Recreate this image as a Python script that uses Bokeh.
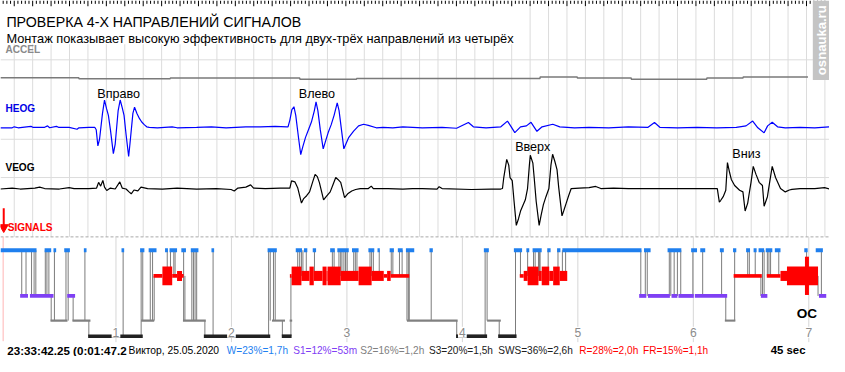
import numpy as np
from bokeh.plotting import figure
from bokeh.models import Range1d, Label
from bokeh.embed import file_html
from bokeh.resources import INLINE
from bokeh.core.properties import value

# ======================= DATA =======================
title_text = "ПРОВЕРКА 4-Х НАПРАВЛЕНИЙ СИГНАЛОВ"
subtitle_text = "Монтаж показывает высокую эффективность для двух-трёх направлений из четырёх"
channel_names = ["ACCEL", "HEOG", "VEOG", "SIGNALS"]
window_sec = 45

# HEOG: time (s) in the 45-s window, amplitude (uV)
heog_t = [0.25, 0.89, 1.00, 1.21, 1.91, 2.01, 2.65, 2.81, 2.92, 3.29, 3.40, 3.98, 4.41, 4.51, 5.05, 5.37,
          5.45, 5.54, 5.63, 5.79, 5.90, 6.01, 6.11, 6.22, 6.38, 6.48, 6.64, 6.75, 6.86, 6.96, 7.07, 7.21,
          7.28, 7.44, 7.53, 7.66, 7.80, 7.92, 8.07, 8.19, 8.33,
          8.77, 9.57, 9.84, 10.90, 11.70, 12.50, 13.57, 14.37, 15.16, 15.80,
          15.86, 15.96, 16.07, 16.18, 16.28, 16.44, 16.55, 16.66, 16.81, 16.97, 17.13, 17.29, 17.38, 17.48,
          17.61, 17.77, 17.88, 18.04, 18.20, 18.36, 18.53, 18.63, 18.76, 18.89, 19.00, 19.16, 19.42, 19.69,
          19.96, 20.22, 20.65,
          21.02, 21.55, 22.09, 22.62, 23.15, 24.22, 25.01, 25.65, 25.92, 26.61, 27.41, 27.77, 27.94, 28.17,
          28.48, 28.80, 29.05, 29.37, 29.65, 30.23, 30.61, 31.41, 32.20, 33.27, 34.33, 35.40, 35.75, 36.04,
          37.00, 38.06, 39.13, 40.19, 40.72, 41.08, 41.36, 41.70, 41.89, 42.14, 42.43, 42.85, 43.65, 44.45, 45.25]
heog_uv = [0, 0, 10, 0, 15, 5, 5, 20, 0, 15, 5, 5, -15, 0, 5, 5,
           -20, -190, -120, 150, 290, 200, 130, -20, -270, -170, 180, 290, 210, 130, -70, -300,
           -170, 150, 215, 150, 95, 60, 30, 10, 5,
           0, 10, 0, 5, 10, 0, 10, 10, 15, 10,
           10, 80, 190, 220, 130, -120, -280, -200, -100, -20, 60, 180, 270, 180,
           -20, -220, -150, -50, 30, 130, 260, 180, -20, -220, -170, -100, -35, 20,
           37, 25, 0,
           5, 0, 10, 5, 0, 5, -5, 55, 10, 0, 10, 70, 20, -50,
           10, 20, 57, -37, 10, 37, 10, 0, 5, 0, 10, 5, 55, 5,
           0, 5, 0, 5, 20, 70, 0, -53, 20, 57, 10, 0, 5, 0, 10]

# VEOG: time (s), amplitude (uV)
veog_t = [0.25, 0.89, 1.32, 2.12, 2.38, 2.65, 3.45, 3.98, 4.25, 5.05,
          5.47, 5.58, 5.69, 5.81, 5.90, 6.02, 6.22, 6.48, 6.73, 6.86,
          7.07, 7.23, 7.35, 7.50, 7.71, 7.88, 8.24, 9.04, 9.84, 10.90,
          11.97, 12.77, 12.94, 13.14, 13.57, 13.83, 13.99, 14.63, 15.43, 15.96,
          16.05, 16.23, 16.39, 16.59, 16.71, 16.87, 17.03, 17.19, 17.33, 17.45,
          17.56, 17.79, 17.93, 18.15, 18.31, 18.45, 18.57, 18.72, 18.93, 19.10,
          19.32, 19.53, 19.78, 20.22, 20.38, 20.49, 21.29, 22.09, 22.62, 23.15,
          23.95, 24.06, 24.22, 25.81, 26.88, 27.41, 27.50, 27.57, 27.73, 27.84,
          27.91, 28.03, 28.13, 28.25, 28.37, 28.48, 28.74, 28.86, 28.96, 29.01,
          29.15, 29.22, 29.33, 29.49, 29.59, 29.72, 29.86, 30.02, 30.13, 30.22,
          30.34, 30.46, 30.55, 30.73, 30.82, 30.96, 31.09, 31.23, 31.67, 32.20,
          32.56, 32.84, 33.53, 34.33, 35.40, 36.46, 37.53, 38.59, 39.16, 39.27,
          39.34, 39.48, 39.62, 39.71, 39.83, 39.92, 40.10, 40.37, 40.55, 40.67,
          40.81, 40.88, 40.99, 41.11, 41.26, 41.43, 41.61, 41.70, 41.88, 42.00,
          42.14, 42.32, 42.59, 42.85, 43.07, 43.21, 43.65, 44.45, 44.98, 45.25]
veog_uv = [-5, 5, -5, 5, 15, 0, -5, 10, 0, 0,
           5, 65, 25, 85, 15, -20, 5, -5, 70, 5,
           -5, -35, -55, -15, -25, 15, 0, -5, 5, -5,
           0, -10, -25, 5, 15, 38, 5, 0, 5, 5,
           80, 70, 5, -152, -105, -75, -35, 65, 148, 125,
           65, -118, -85, -35, 45, 115, 95, 65, -95, -55,
           -25, -10, 0, 0, 25, 0, 0, -5, 0, 0,
           -5, 20, 0, -10, -5, -5, 0, 115, 305, 245,
           115, 82, -135, -385, -315, -235, -118, 0, 245, 348,
           265, 115, -135, -385, -285, -168, -85, 0, 245, 358,
           285, 198, 15, -285, -235, -152, -75, 0, 5, 10,
           22, 0, 5, 0, 0, 0, 0, 0, 0, -142,
           -125, -85, -18, 272, 165, 95, 32, -18, -35, -235,
           -152, -65, 65, 232, 148, 65, 32, -185, -85, 65,
           232, 115, 0, -35, -15, -8, 0, 0, 10, -5]

# ACCEL: step signal (edges in s, level between edges)
accel_edges_t = [0.25, 4.51, 9.47, 16.50, 19.58, 29.54, 31.56, 34.49, 38.59, 40.56, 44.08]
accel_level = [3, -7, 0, -13, -5, 10, 0, -13, 0, 10]

move_names = ["Вправо", "Влево", "Вверх", "Вниз"]
move_t = [6.67, 17.43, 29.14, 40.74]
move_channel = ["heog", "heog", "veog", "veog"]

# ---- hypnogram (hours from start of recording) ----
w_start = [0.000, 0.382, 0.459, 0.552, 0.722, 1.048, 1.209, 1.283, 1.425, 1.464, 1.566, 1.648, 1.827, 2.313,
           2.557, 2.628, 2.704, 2.855, 2.917, 3.044, 3.186, 3.265, 3.370, 3.441, 3.511, 3.715, 4.186, 4.446,
           4.554, 4.608, 4.735, 4.820, 4.866, 5.573, 5.777, 5.981, 6.060, 6.230, 6.344, 6.457, 6.522, 6.565,
           6.627, 6.706, 6.961, 7.060]
w_end = [0.312, 0.439, 0.482, 0.601, 0.745, 1.071, 1.246, 1.351, 1.450, 1.529, 1.606, 1.714, 1.850, 2.393,
         2.611, 2.657, 2.733, 2.895, 3.016, 3.101, 3.237, 3.285, 3.407, 3.483, 3.583, 3.744, 4.229, 4.517,
         4.579, 4.687, 4.764, 4.849, 5.551, 5.630, 5.896, 6.032, 6.103, 6.264, 6.372, 6.491, 6.548, 6.613,
         6.684, 6.755, 6.990, 7.122]
s1_start = [0.170, 0.255, 0.578, 5.531, 5.607, 5.811, 5.871, 6.013, 6.585, 7.088]
s1_end = [0.238, 0.459, 0.646, 5.593, 5.797, 5.862, 6.004, 6.293, 6.641, 7.151]
s2_start = [0.433, 0.623, 1.218, 1.580, 2.351, 2.504, 3.520, 4.214, 6.273]
s2_end = [0.580, 0.779, 1.331, 1.778, 2.464, 2.526, 3.959, 4.333, 6.364]
s3_start = [0.759, 1.761, 2.436, 3.945, 4.310]
s3_end = [1.232, 2.336, 2.521, 4.214, 4.469]
rem_start = [1.325, 1.402, 1.487, 1.529, 1.572, 2.506, 2.521, 2.606, 2.676, 2.713, 2.789, 2.824, 2.832, 2.946,
             3.101, 3.214, 3.319, 3.348, 3.379, 4.497, 4.531, 4.565, 4.659, 4.687, 4.752, 4.786, 4.843, 6.349,
             6.636, 6.755, 6.811]
rem_end = [1.402, 1.487, 1.529, 1.572, 1.586, 2.521, 2.606, 2.676, 2.713, 2.789, 2.824, 2.832, 2.946, 3.101,
           3.214, 3.319, 3.348, 3.379, 3.540, 4.531, 4.565, 4.659, 4.687, 4.752, 4.786, 4.843, 4.908, 6.593,
           6.755, 6.811, 7.080]
rem_density = [1, 3, 1, 2, 1, 1, 3, 2, 3, 2, 3, 2, 3, 2, 3, 2, 1, 2, 1, 1, 2, 3, 2, 3, 2, 3, 2, 1, 1, 2, 3]

trans_h = [0.184, 0.221, 0.269, 0.291, 0.306, 0.388, 0.402, 0.419, 0.439, 0.467,
           0.567, 0.586, 0.629, 0.731, 0.765, 1.062, 1.218, 1.232, 1.297, 1.317,
           1.331, 1.444, 1.472, 1.501, 1.512, 1.586, 1.597, 1.657, 1.671, 1.685,
           1.699, 1.770, 1.841, 2.322, 2.336, 2.364, 2.379, 2.441, 2.515, 2.574,
           2.591, 2.606, 2.619, 2.648, 2.719, 2.874, 2.889, 2.931, 2.946, 2.957,
           2.974, 2.988, 3.002, 3.059, 3.073, 3.087, 3.200, 3.214, 3.229, 3.280,
           3.384, 3.398, 3.455, 3.478, 3.520, 3.532, 3.540, 3.730, 3.951, 4.197,
           4.214, 4.319, 4.460, 4.503, 4.565, 4.616, 4.630, 4.659, 4.667, 4.673,
           4.743, 4.828, 4.866, 4.894, 5.545, 5.584, 5.601, 5.792, 5.805, 5.834,
           5.862, 5.891, 5.996, 6.081, 6.245, 6.281, 6.358, 6.471, 6.485, 6.536,
           6.585, 6.599, 6.613, 6.641, 6.655, 6.669, 6.740, 6.981, 7.080, 7.109]
trans_from = (["W"] * 8 + ["S1", "W"] +
              ["W", "W", "S1", "W", "S2", "W", "W", "W", "W", "W"] +
              ["S2", "W", "W", "W", "W", "W", "R", "W", "W", "W"] +
              ["W", "S2", "W", "W", "W", "W", "W", "S2", "R", "W"] +
              ["W"] * 10 +
              ["W"] * 10 +
              ["W"] * 8 + ["S2", "W"] +
              ["W", "S2"] + ["W"] * 8 +
              ["W"] * 10 +
              ["W"] * 5 + ["S1", "W", "W", "W", "W"] +
              ["R", "W", "W", "W", "W", "W", "W", "W", "R", "W"])
trans_to = (["S1"] * 8 + ["S2", "S2"] +
            ["S2", "S2", "S2", "S2", "S3", "S3", "S3", "S2", "S2", "S2"] +
            ["R", "R", "R", "R", "R", "S2", "S2", "S2", "S2", "S2"] +
            ["S2", "S3", "S3", "S3", "S2", "S2", "S2", "S3", "S3", "R"] +
            ["R"] * 10 +
            ["R"] * 10 +
            ["R"] * 4 + ["S2"] * 4 + ["S3", "S3"] +
            ["S2", "S3", "S3"] + ["R"] * 7 +
            ["R"] * 4 + ["S1"] * 6 +
            ["S1"] * 5 + ["S2", "S2", "R", "R", "R"] +
            ["S1", "S1", "S1", "R", "R", "R", "R", "R", "S1", "S1"])

hour_ticks = [1, 2, 3, 4, 5, 6, 7]
cursor_h = 0.028
event_h = [6.984]
event_names = ["ОС"]

clock_text = "23:33:42.25 (0:01:47.2"
subject_text = "Виктор, 25.05.2020"
stat_names = ["W", "S1", "S2", "S3", "SWS", "R", "FR"]
stat_pct = [23, 12, 16, 20, 36, 28, 15]
stat_dur = ["1,7h", "53m", "1,2h", "1,5h", "2,6h", "2,0h", "1,1h"]
watermark = "osnauka.ru"

# ======================= LAYOUT / STYLE =======================
FW, FH = 829, 356          # figure size
GW, GH = 845, 372          # design grid (layout positions below are in this grid)
FONT = value("Liberation Sans")
SC = 0.97


def fs(px):
    return f"{px * SC:.1f}px"


p = figure(width=FW, height=FH, output_backend="svg", toolbar_location=None,
           x_range=Range1d(0, GW), y_range=Range1d(GH, 0),
           x_axis_location=None, y_axis_location=None, min_border=0,
           outline_line_color=None, background_fill_color="white", border_fill_color="white")
p.grid.visible = False

SEC_PX = 18.78     # px per second in the signal window
HR_PX = 117.7      # px per hour in the hypnogram
T0 = 0.2545
p.extra_x_ranges = {"sec": Range1d(T0, T0 + GW / SEC_PX), "hr": Range1d(0, GW / HR_PX)}
UVPX = 10.0
p.extra_y_ranges = {
    "heog": Range1d((133 - GH) * UVPX, 133 * UVPX),
    "veog": Range1d((196.5 - GH) * UVPX, 196.5 * UVPX),
    "accel": Range1d((81 - GH) * UVPX, 81 * UVPX),
}

GRID = "#dcdcdc"
# one-second grid
sec_lines = list(range(1, window_sec + 1))
p.segment(x0=sec_lines, x1=sec_lines, y0=7, y1=247, x_range_name="sec", line_color=GRID, line_width=1)
for yy in (62, 145, 185):
    p.segment(x0=0, x1=GW, y0=yy, y1=yy, line_color=GRID, line_width=1)

# channel labels (ACCEL is partly hidden under the title box, as in the original)
p.text(x=[5, 5, 5, 7.3], y=[51.2, 113, 175, 237], text=channel_names, text_font=FONT,
       text_font_style="bold", text_font_size=fs(10.4),
       text_color=["#8a8a8a", "#0000e6", "black", "#ff0000"], text_baseline="alphabetic")

# white box behind title
p.quad(left=0, right=527, top=6, bottom=45.8, fill_color="white", line_color=None)

# ruler ticks
k5 = np.arange(1, 5 * window_sec + 1)
tick_t = k5 / 5.0
tick_len = np.where(k5 % 5 == 0, 6.0, 3.5)
p.segment(x0=tick_t, x1=tick_t, y0=0, y1=tick_len, x_range_name="sec", line_color="black", line_width=1)

# titles
p.text(x=[6], y=[22.7], text=[title_text], text_font=FONT, text_font_size=fs(14.6),
       text_color="black", text_baseline="alphabetic")
p.text(x=[6], y=[39.3], text=[subtitle_text], text_font=FONT, text_font_size=fs(13.2),
       text_color="black", text_baseline="alphabetic")

# traces
p.step(x=accel_edges_t, y=accel_level + [accel_level[-1]], mode="after", x_range_name="sec",
       y_range_name="accel", line_color="#7a7a7a", line_width=1.4)
p.line(heog_t, heog_uv, x_range_name="sec", y_range_name="heog", line_color="#0000ff", line_width=1.2)
p.line(veog_t, veog_uv, x_range_name="sec", y_range_name="veog", line_color="black", line_width=1.2)

move_y = {"Вправо": 357, "Влево": 357, "Вверх": 438, "Вниз": 365}
for name, t, ch in zip(move_names, move_t, move_channel):
    p.text(x=[t], y=[move_y[name]], text=[name], x_range_name="sec", y_range_name=ch,
           text_font=FONT, text_font_size=fs(13), text_color="black",
           text_align="center", text_baseline="alphabetic")

# separator
p.segment(x0=0, x1=GW, y0=247, y1=247, line_color="#a8a8a8", line_dash="3 2", line_width=1)

# cursor arrow
p.segment(x0=[cursor_h], x1=[cursor_h], y0=217, y1=236, x_range_name="hr", line_color="red", line_width=2)
p.scatter(x=[cursor_h], y=[237], marker="inverted_triangle", size=9, x_range_name="hr",
          fill_color="red", line_color="red")

# ---- hypnogram ----
LV = {"W": 261.0, "R": 287.8, "S1": 308.7, "S2": 334.5, "S3": 350.8}
BAR_H = {"W": 4.0, "S1": 4.0, "S2": 2.2, "S3": 3.8}
REM_H = {1: 3.8, 2: 10.5, 3: 19.5}
COL = {"W": "#1f7fee", "S1": "#7f40f4", "S2": "#808080", "S3": "#222222", "R": "#ff0000"}

p.segment(x0=hour_ticks, x1=hour_ticks, y0=247, y1=357, x_range_name="hr", line_color="#d6d6d6", line_width=1)
p.segment(x0=[cursor_h - 0.005], x1=[cursor_h - 0.005], y0=247, y1=356, x_range_name="hr",
          line_color="#ffb4b4", line_width=1)

p.segment(x0=trans_h, x1=trans_h, y0=[LV[s] for s in trans_from], y1=[LV[s] for s in trans_to],
          x_range_name="hr", line_color="#7c7c7c", line_width=1)


def bars(st, s, e):
    h = BAR_H[st]
    p.quad(left=s, right=e, top=LV[st] - h / 2, bottom=LV[st] + h / 2, x_range_name="hr",
           fill_color=COL[st], line_color=None)


bars("S2", s2_start, s2_end)
bars("S3", s3_start, s3_end)
bars("S1", s1_start, s1_end)
bars("W", w_start, w_end)
rh = [REM_H[d] for d in rem_density]
p.quad(left=rem_start, right=rem_end, top=[LV["R"] - h / 2 for h in rh], bottom=[LV["R"] + h / 2 for h in rh],
       x_range_name="hr", fill_color=COL["R"], line_color=None)

# event marker
p.segment(x0=event_h, x1=event_h, y0=267.7, y1=307.7, x_range_name="hr", line_color="red", line_width=4)
p.text(x=event_h, y=[326.7], text=event_names, x_range_name="hr", text_font=FONT, text_font_style="bold",
       text_font_size=fs(14), text_color="black", text_align="center", text_baseline="alphabetic")

for hh in hour_ticks:
    p.add_layout(Label(x=hh, y=346.7, x_range_name="hr", text=str(hh), text_font="Liberation Sans",
                       text_font_size=fs(12.5), text_color="#8c8c8c", text_align="center",
                       text_baseline="alphabetic", background_fill_color="white", padding=1))

# ---- status line ----
STATUS_Y = 365.5
STAT_COL = ["#1e7ff0", "#7f40f4", "#808080", "#202020", "#202020", "#ff0000", "#ff0000"]
stat_x = [230.7, 298.3, 366.7, 436.7, 507.3, 590, 655]
stat_text = [f"{n}={v}%={d}" for n, v, d in zip(stat_names, stat_pct, stat_dur)]
p.text(x=[7], y=[STATUS_Y], text=[clock_text], text_font=FONT, text_font_style="bold", text_font_size=fs(12),
       text_color="black", text_baseline="alphabetic")
p.text(x=[130.5], y=[STATUS_Y], text=[subject_text], text_font=FONT, text_font_size=fs(10.6),
       text_color="black", text_baseline="alphabetic")
p.text(x=stat_x, y=[STATUS_Y] * len(stat_x), text=stat_text, text_font=FONT, text_font_size=fs(10.4),
       text_color=STAT_COL, text_baseline="alphabetic")
p.text(x=[785], y=[STATUS_Y], text=[f"{window_sec} sec"], text_font=FONT, text_font_style="bold",
       text_font_size=fs(11.8), text_color="black", text_baseline="alphabetic")

# watermark
p.quad(left=828, right=GW, top=0, bottom=83, fill_color="#c4c4c4", line_color=None)
p.text(x=[836.8], y=[41.5], text=[watermark], angle=np.pi / 2, text_font=FONT, text_font_style="bold",
       text_font_size=fs(13.5), text_color="white", text_align="center", text_baseline="middle")

open("out.html", "w").write(file_html(p, INLINE))
